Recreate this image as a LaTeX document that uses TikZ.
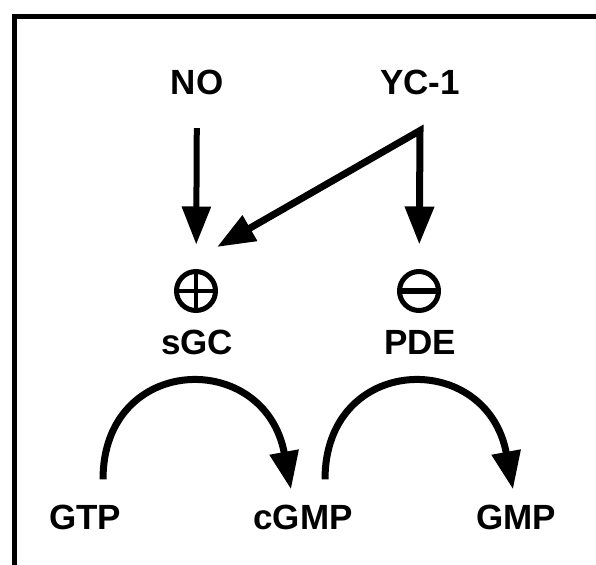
\documentclass[tikz,border=0pt]{standalone}
\usepackage{fontspec}
\setmainfont{Liberation Sans}
\usetikzlibrary{arrows.meta}

\begin{document}
\begin{tikzpicture}[x=1pt,y=1pt]
    \tikzstyle{word}=[inner sep=0pt, font=\fontsize{35}{40}\selectfont\bfseries]
    \tikzstyle{sign}=[circle, draw, line width=5pt, minimum size=39pt, inner sep=0pt]
    \tikzstyle{arr}=[line width=6pt, >={Triangle[length=38pt,width=28pt]}, ->]
    \clip (0,0) rectangle (596,564);
    \draw[line width=5pt] (14.5,547.5) rectangle (640,-40);

    \node[word] (no)   at (197,482) {NO};
    \node[word] (yc)   at (420,482) {YC-1};
    \node[sign] (act)  at (196,273) {};
    \node[sign] (inh)  at (419,273) {};
    \node[word] (sgc)  at (197,222) {sGC};
    \node[word] (pde)  at (420,222) {PDE};
    \node[word] (gtp)  at (85,47)   {GTP};
    \node[word] (cgmp) at (303,47)  {cGMP};
    \node[word] (gmp)  at (516,47)  {GMP};

    \draw[line width=4pt] (act.north) -- (act.south)
                          (act.west)  -- (act.east);
    \draw[line width=6pt] (inh.west)  -- (inh.east);

    \coordinate (apex) at ([yshift=-36pt]yc.south);
    \coordinate (hit)  at ([xshift=21pt,yshift=44pt]act.center);

    \draw[arr, shorten <=33.5pt, shorten >=24.5pt] (no) -- (act);
    \draw[arr, <->, line width=7pt, line join=miter, shorten >=24.5pt] (hit) -- (apex) -- (inh);

    \draw[arr, line width=7pt] ([xshift=18pt,yshift=25pt]gtp.north)
        .. controls +(0,126) and +(-26,141) .. ([xshift=-12pt,yshift=15pt]cgmp.north);
    \draw[arr, line width=7pt] ([xshift=22pt,yshift=25pt]cgmp.north)
        .. controls +(0,126) and +(-26,141) .. ([xshift=-3pt,yshift=15pt]gmp.north);

\end{tikzpicture}
\end{document}
